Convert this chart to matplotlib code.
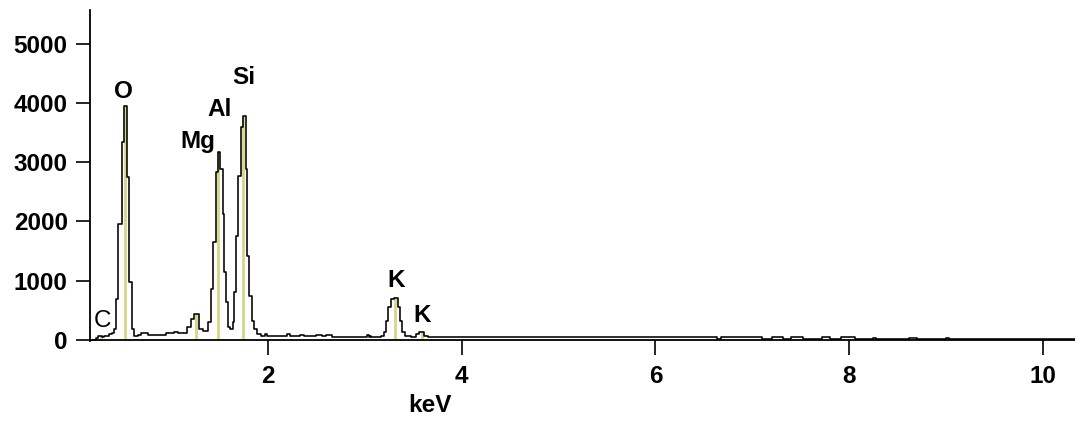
import matplotlib
matplotlib.use("Agg")
import matplotlib.pyplot as plt

plt.rcParams['font.family'] = ['Liberation Sans', 'DejaVu Sans']

# EDS spectrum: channel left edges (keV) and counts
energy = [0.165, 0.227, 0.25, 0.29, 0.31, 0.36, 0.39, 0.416, 0.433, 0.457,
          0.492, 0.519, 0.547, 0.571, 0.595, 0.622, 0.66, 0.69, 0.76, 0.95,
          1.035, 1.07, 1.17, 1.21, 1.24, 1.29, 1.33, 1.38, 1.414, 1.438,
          1.465, 1.489, 1.51, 1.535, 1.55, 1.569, 1.586, 1.613, 1.638, 1.654,
          1.672, 1.696, 1.72, 1.745, 1.77, 1.785, 1.81, 1.834, 1.86, 1.889,
          1.93, 1.97, 1.99, 2.2, 2.23, 2.33, 2.37, 2.5, 2.56, 2.6,
          2.66, 2.72, 3.02, 3.04, 3.05, 3.065, 3.17, 3.196, 3.22, 3.244,
          3.27, 3.306, 3.34, 3.364, 3.39, 3.416, 3.478, 3.53, 3.563, 3.615,
          3.65, 4.6, 5.6, 6.64, 6.68, 7.1, 7.2, 7.32, 7.40, 7.52,
          7.72, 7.80, 7.92, 8.06, 8.25, 8.28, 8.62, 8.70, 9.00, 9.03,
          10.33]
counts = [5, 25, 60, 40, 70, 90, 120, 185, 690, 1955,
          3340, 3950, 2750, 980, 185, 70, 80, 120, 85, 120,
          135, 120, 220, 355, 430, 185, 150, 300, 860, 1650,
          2830, 3170, 2880, 2120, 1150, 640, 220, 185, 300, 810,
          1750, 2760, 3590, 3780, 2880, 1415, 740, 320, 185, 100,
          70, 95, 70, 90, 65, 85, 60, 80, 60, 80,
          55, 50, 75, 45, 60, 40, 70, 135, 320, 555,
          690, 705, 555, 320, 135, 70, 55, 100, 135, 70,
          50, 45, 42, 12, 40, 12, 40, 12, 40, 12,
          40, 12, 40, 12, 35, 12, 35, 12, 35, 8,
          8]

# element marker lines and labels
elements = ['C', 'O', 'Mg', 'Al', 'Si', 'K', 'K']
line_kev = [0.277, 0.525, 1.254, 1.487, 1.740, 3.313, 3.590]
line_height = [60, 3950, 430, 3170, 3780, 705, 135]
label_x = [0.29, 0.515, 1.28, 1.50, 1.755, 3.32, 3.59]
label_y = [320, 4200, 3355, 3895, 4435, 995, 405]

fs = 17.5

fig = plt.figure(figsize=(10.75, 4.3), dpi=100)
ax = fig.add_axes([0.0837, 0.207, 0.9163, 0.770])

ax.vlines(line_kev, 0, line_height, color='#d6d688', lw=2.0, zorder=1)
ax.step(energy, counts, where='post', color='black', lw=1.15, zorder=2)

for name, x, y in zip(elements, label_x, label_y):
    ax.text(x, y, name, ha='center', va='center', fontsize=fs,
            fontweight='normal' if name == 'C' else 'bold')

ax.set_xlim(0.165, 10.33)
ax.set_ylim(-20, 5570)
ax.set_xticks([2, 4, 6, 8, 10])
ax.set_yticks([0, 1000, 2000, 3000, 4000, 5000])

for side in ['top', 'right']:
    ax.spines[side].set_visible(False)
for side in ['left', 'bottom']:
    ax.spines[side].set_linewidth(1.3)
ax.spines['bottom'].set_position(('data', 0))

ax.tick_params(axis='y', length=10, width=1.2, pad=6, labelsize=fs)
ax.tick_params(axis='x', length=11, width=1.2, pad=7, labelsize=fs)
for lab in ax.get_xticklabels() + ax.get_yticklabels():
    lab.set_fontweight('bold')

ax.set_xlabel('keV', fontsize=fs, fontweight='bold')
ax.xaxis.set_label_coords(0.345, -0.16)

fig.savefig('out.png', dpi=100)
